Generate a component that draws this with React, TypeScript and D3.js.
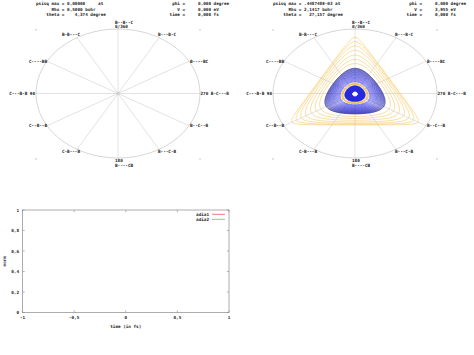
import React, { useMemo } from "react";
import * as d3 from "d3";

// ---------- data ----------
const angleTicks = [0, 30, 60, 90, 120, 150, 180, 210, 240, 270, 300, 330];
const angleConfigs = ["B--B--C", "B-B---C", "C----BB", "C---B-B", "C--B--B", "C-B---B", "B----CB", "B---C-B", "B--C--B", "B-C---B", "B----BC", "B---B-C"];
const angleNumbers: Record<number, string> = { 0: "0/360", 90: "90", 180: "180", 270: "270" };

const leftHeaderL = ["psisq max = 0,00000     at", "      Rho = 0,5000 bohr", "    theta =    4,374 degree"];
const leftHeaderR = ["  phi =     0,000 degree", "    V =     0,000 eV", " time =     0,000 fs"];
const rightHeaderL = ["psisq max = .448748E-03 at", "      Rho = 2,1417 bohr", "    theta =   27,157 degree"];
const rightHeaderR = ["  phi =     0,000 degree", "    V =     3,955 eV", " time =     0,000 fs"];

// contour levels of the density panel (right)
const orangeLevels = [0.1625, 0.155, 0.144, 0.13, 0.113, 0.096, 0.08];
const blueLevels = [0.061, 0.0585, 0.056, 0.0535, 0.051, 0.0485, 0.046, 0.0435, 0.041, 0.0385, 0.036, 0.0335, 0.031, 0.0285, 0.026, 0.0235, 0.021, 0.0185, 0.0165];
const ringLevels = [0.011, 0.013];
const coreLevel = 0.008;
const centerLevel = 0.0005;

// bottom chart
const xTicks = [-1, -0.5, 0, 0.5, 1];
const yTicks = [0, 0.2, 0.4, 0.6, 0.8, 1];
const seriesNames = ["adia1", "adia2"];
const seriesColors = ["#f03c3c", "#3ccc3c"];
const adia1: [number, number][] = [];
const adia2: [number, number][] = [];
const seriesData = [adia1, adia2];

// ---------- helpers ----------
const FONT = "DejaVu Sans Mono";
const FS = 4.3;
const TXT = "#222";
const GRID = "#c4c4c4";

const loc = d3.formatLocale({ decimal: ",", thousands: ".", grouping: [3], currency: ["", ""], minus: "-" });
const fmt = loc.format("~g");

const RX = 82, RY = 64.5, CY = 93.5;

function field(x: number, y: number) {
  const c = Math.cos(Math.PI / 6), s = 0.5;
  if (-y > 0.5 || c * x + s * y > 0.5 || -c * x + s * y > 0.5) return 0.2;
  return 0.5 * (x * x + y * y) + x * x * y - (y * y * y) / 3;
}

function useContours(cx: number) {
  return useMemo(() => {
    const N = 261, ext = 1.25, step = (2 * ext) / (N - 1);
    const values = new Float64Array(N * N);
    for (let j = 0; j < N; j++)
      for (let i = 0; i < N; i++) values[j * N + i] = -field(-ext + i * step, ext - j * step);
    const gen = d3.contours().size([N, N]);
    const proj = d3.geoTransform({
      point(px: number, py: number) {
        (this as any).stream.point(cx + (-ext + (px - 0.5) * step) * RX * 0.98, CY + 0.5 - (ext - (py - 0.5) * step) * RY * 0.97);
      },
    });
    const path = d3.geoPath(proj);
    const mk = (L: number) => path(gen.contour(values as any, -L) as any) || "";
    return {
      orange: orangeLevels.map(mk),
      blue: blueLevels.map(mk),
      ring: ringLevels.map(mk),
      core: mk(coreLevel),
      center: mk(centerLevel),
    };
  }, [cx]);
}

function Header({ x0, left, right }: { x0: number; left: string[]; right: string[] }) {
  return (
    <g fontFamily={FONT} fontSize={FS} fontWeight="bold" fill={TXT} style={{ whiteSpace: "pre" }}>
      {left.map((t, i) => (
        <text key={"l" + i} x={x0 + 36} y={5 + i * 5.5} xmlSpace="preserve">{t}</text>
      ))}
      {right.map((t, i) => (
        <text key={"r" + i} x={x0 + 167} y={5 + i * 5.5} xmlSpace="preserve">{t}</text>
      ))}
    </g>
  );
}

function PolarFrame({ cx }: { cx: number }) {
  const pt = (a: number) => {
    const r = (a * Math.PI) / 180;
    return [cx - RX * Math.sin(r), CY - RY * Math.cos(r)];
  };
  return (
    <g>
      <ellipse cx={cx} cy={CY} rx={RX} ry={RY} fill="none" stroke={GRID} strokeWidth={0.7} />
      {angleTicks.map((a) => {
        const [x, y] = pt(a);
        return <line key={a} x1={cx} y1={CY} x2={x} y2={y} stroke={GRID} strokeWidth={0.5} />;
      })}
      <circle cx={cx} cy={CY} r={1.3} fill="none" stroke={GRID} strokeWidth={0.5} />
      {[[-RX, -RY], [RX, -RY], [-RX, RY], [RX, RY]].map(([dx, dy], i) => (
        <line key={i} x1={cx + dx} y1={CY + dy} x2={cx + dx} y2={CY + dy + 1.8} stroke="#999" strokeWidth={0.6} />
      ))}
      <g fontFamily={FONT} fontSize={FS} fontWeight="bold" fill={TXT}>
        {angleTicks.map((a, i) => {
          const [x, y] = pt(a);
          const cfg = angleConfigs[i];
          const num = angleNumbers[a];
          if (a === 0)
            return (
              <g key={a}>
                <text x={x - 3} y={y - 5.5}>{cfg}</text>
                <text x={x - 3} y={y - 1.2}>{num}</text>
              </g>
            );
          if (a === 180)
            return (
              <g key={a}>
                <text x={x - 3} y={y + 4.3}>{num}</text>
                <text x={x - 3} y={y + 8.6}>{cfg}</text>
              </g>
            );
          if (a === 90)
            return <text key={a} x={x - 1} y={y + 1.5} textAnchor="end" xmlSpace="preserve">{cfg + " " + num}</text>;
          if (a === 270)
            return <text key={a} x={x + 0.5} y={y + 1.5} xmlSpace="preserve">{num + " " + cfg}</text>;
          if (a < 180) {
            const dx = a === 30 || a === 150 ? 3 : 0;
            const dy = a === 30 ? -1.5 : a === 150 ? 3.5 : 1.5;
            return <text key={a} x={x + dx} y={y + dy} textAnchor="end">{cfg}</text>;
          }
          const dx = a === 330 || a === 210 ? -1 : 1;
          const dy = a === 330 ? -1.5 : a === 210 ? 3.5 : 1.5;
          return <text key={a} x={x + dx} y={y + dy}>{cfg}</text>;
        })}
      </g>
    </g>
  );
}

function DensityContours({ cx }: { cx: number }) {
  const c = useContours(cx);
  const blueColor = d3.scaleLinear<string>().domain([0, blueLevels.length - 1]).range(["#3030b0", "#3a3aee"]);
  return (
    <g fill="none">
      {c.orange.map((d, i) => (
        <path key={"o" + i} d={d} stroke="#f6c458" strokeWidth={0.6} />
      ))}
      {c.blue.map((d, i) => (
        <path key={"b" + i} d={d} stroke={i === 0 ? "#262670" : blueColor(i)} strokeWidth={i === 0 ? 0.8 : 0.65} />
      ))}
      <path d={c.core} fill="#2828dc" stroke="#2020c0" strokeWidth={0.6} />
      {c.ring.map((d, i) => (
        <path key={"r" + i} d={d} stroke="#f2b02a" strokeWidth={1} />
      ))}
      <path d={c.center} fill="#fff" stroke="#fff" strokeWidth={0.8} />
    </g>
  );
}

function LineChart() {
  const x = d3.scaleLinear().domain([-1, 1]).range([22.5, 229]);
  const y = d3.scaleLinear().domain([0, 1]).range([312.5, 210]);
  const line = d3.line<[number, number]>().x((d) => x(d[0])).y((d) => y(d[1]));
  const [x0, x1] = x.range();
  const [y0, y1] = y.range();
  const tk = 2.2;
  return (
    <g>
      <rect x={x0} y={y1} width={x1 - x0} height={y0 - y1} fill="none" stroke="#8a8a8a" strokeWidth={0.7} />
      {xTicks.map((t) => (
        <g key={"x" + t}>
          <line x1={x(t)} x2={x(t)} y1={y0} y2={y0 - tk} stroke="#8a8a8a" strokeWidth={0.6} />
          <line x1={x(t)} x2={x(t)} y1={y1} y2={y1 + tk} stroke="#8a8a8a" strokeWidth={0.6} />
          <text x={x(t)} y={y0 + 6.3} textAnchor="middle" fontFamily={FONT} fontSize={FS} fontWeight="bold" fill={TXT}>{fmt(t)}</text>
        </g>
      ))}
      {yTicks.map((t) => (
        <g key={"y" + t}>
          <line x1={x0} x2={x0 + tk} y1={y(t)} y2={y(t)} stroke="#8a8a8a" strokeWidth={0.6} />
          <line x1={x1} x2={x1 - tk} y1={y(t)} y2={y(t)} stroke="#8a8a8a" strokeWidth={0.6} />
          <text x={x0 - 3.5} y={y(t) + 1.5} textAnchor="end" fontFamily={FONT} fontSize={FS} fontWeight="bold" fill={TXT}>{fmt(t)}</text>
        </g>
      ))}
      <text x={(x0 + x1) / 2} y={327.5} textAnchor="middle" fontFamily={FONT} fontSize={FS} fontWeight="bold" fill={TXT}>time (in fs)</text>
      <text transform={`translate(6,${(y0 + y1) / 2}) rotate(-90)`} textAnchor="middle" fontFamily={FONT} fontSize={FS} fontWeight="bold" fill={TXT}>norm</text>
      {seriesData.map((s, i) => (
        <path key={"s" + i} d={line(s) || ""} fill="none" stroke={seriesColors[i]} strokeWidth={0.8} />
      ))}
      {seriesNames.map((n, i) => (
        <g key={n}>
          <text x={209} y={215.8 + i * 5} textAnchor="end" fontFamily={FONT} fontSize={FS} fontWeight="bold" fill={TXT}>{n}</text>
          <line x1={212} x2={225} y1={214.3 + i * 5} y2={214.3 + i * 5} stroke={seriesColors[i]} strokeWidth={0.7} />
        </g>
      ))}
    </g>
  );
}

export default function App() {
  const lcx = 118, rcx = 355;
  return (
    <svg width={474} height={355} viewBox="0 0 474 355" style={{ position: "absolute", left: 0, top: 0, background: "#fff" }}>
      <rect width={474} height={355} fill="#fff" />
      <Header x0={0} left={leftHeaderL} right={leftHeaderR} />
      <PolarFrame cx={lcx} />
      <Header x0={237} left={rightHeaderL} right={rightHeaderR} />
      <PolarFrame cx={rcx} />
      <DensityContours cx={rcx} />
      <LineChart />
    </svg>
  );
}
